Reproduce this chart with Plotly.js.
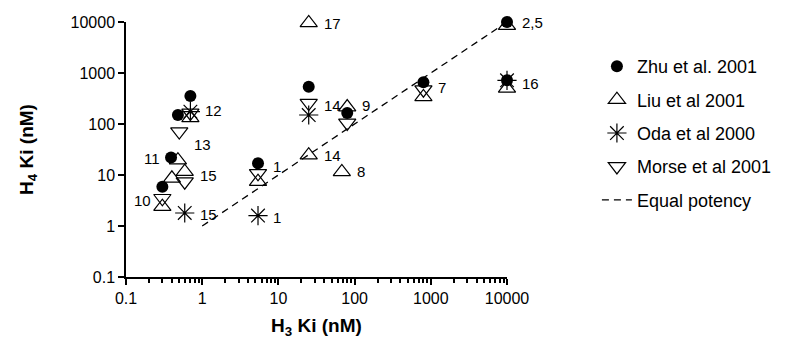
<!DOCTYPE html>
<html>
<head>
<meta charset="utf-8">
<script src="https://cdn.plot.ly/plotly-3.0.1.min.js"></script>
<style>
  html, body { margin: 0; padding: 0; background: #fff; }
  #chart { width: 794px; height: 339px; }
</style>
</head>
<body>
<div id="chart"></div>
<script>
// ---- Data ----
const zhuX   = [0.30, 0.39, 0.48, 0.70, 5.4, 25, 80, 800, 10000, 10000];
const zhuY   = [5.9, 22, 150, 355, 17, 540, 165, 660, 10000, 720];
const liuX   = [0.30, 0.40, 0.48, 0.59, 0.70, 5.4, 25, 25, 68, 80, 800, 10000, 10000];
const liuY   = [2.4, 8.6, 19.5, 11.6, 132, 7.4, 9600, 24.5, 11.5, 215, 340, 8500, 500];
const odaX   = [0.59, 0.70, 5.4, 25, 10000];
const odaY   = [1.8, 175, 1.6, 150, 720];
const morseX = [0.30, 0.50, 0.59, 0.70, 5.4, 25, 80, 800];
const morseY = [3.5, 71, 7.4, 165, 10.8, 257, 105, 470];
const equalX = [1, 10000];
const equalY = [1, 10000];

const seriesNames = ['Zhu et al. 2001', 'Liu et al 2001', 'Oda et al 2000', 'Morse et al 2001', 'Equal potency'];

const labelText = ['10', '11', '12', '13', '15', '15', '1', '1', '17', '14', '14', '9', '8', '7', '2,5', '16'];
const labelX    = [0.30, 0.39, 0.70, 0.50, 0.59, 0.59, 5.4, 5.4, 25, 25, 25, 80, 68, 800, 10000, 10000];
const labelY    = [3.2, 21.5, 186, 39, 10, 1.65, 14.4, 1.5, 9550, 235, 24.5, 230, 11.5, 530, 10000, 630];
const labelOnLeft = [true, true, false, false, false, false, false, false, false, false, false, false, false, false, false, false];

const tickVals = [0.1, 1, 10, 100, 1000, 10000];
const tickText = ['0.1', '1', '10', '100', '1000', '10000'];

// ---- Styling ----
const FONT = 'Liberation Sans, Arial, Helvetica, sans-serif';

const traces = [
  {
    x: zhuX, y: zhuY, name: seriesNames[0], mode: 'markers', type: 'scatter',
    legendgroup: 'g1', legendrank: 1, cliponaxis: false,
    marker: { symbol: 'circle', size: 12, color: '#000' }
  },
  {
    x: liuX, y: liuY, name: seriesNames[1], mode: 'markers', type: 'scatter',
    legendgroup: 'g2', legendrank: 2, cliponaxis: false,
    marker: { symbol: 'triangle-up-open', size: 15, color: '#000', line: { color: '#000', width: 1.2 } }
  },
  {
    x: odaX, y: odaY, name: seriesNames[2], mode: 'markers', type: 'scatter',
    legendgroup: 'g3', legendrank: 3, cliponaxis: false,
    marker: { symbol: 'asterisk-open', size: 16, color: '#000', line: { color: '#000', width: 1.2 } }
  },
  {
    x: morseX, y: morseY, name: seriesNames[3], mode: 'markers', type: 'scatter',
    legendgroup: 'g4', legendrank: 4, cliponaxis: false,
    marker: { symbol: 'triangle-down-open', size: 15, color: '#000', line: { color: '#000', width: 1.2 } }
  },
  {
    x: equalX, y: equalY, name: seriesNames[4], mode: 'lines', type: 'scatter',
    legendgroup: 'g5', legendrank: 5, cliponaxis: false,
    line: { color: '#000', width: 1.3, dash: '7px,5px' }
  }
];

const annotations = labelText.map((t, i) => ({
  x: Math.log10(labelX[i]), y: Math.log10(labelY[i]), xref: 'x', yref: 'y',
  text: t, showarrow: false,
  xanchor: labelOnLeft[i] ? 'right' : 'left', yanchor: 'middle',
  xshift: labelOnLeft[i] ? -9 : 13,
  font: { family: FONT, size: 15, color: '#000' }
}));

const layout = {
  width: 794, height: 339,
  margin: { l: 126, r: 287, t: 22, b: 62 },
  paper_bgcolor: '#fff', plot_bgcolor: '#fff',
  font: { family: FONT, color: '#000' },
  showlegend: true,
  legend: {
    x: 1.236, y: 0.898, xanchor: 'left', yanchor: 'top',
    font: { family: FONT, size: 18, color: '#000' },
    traceorder: 'grouped', tracegroupgap: 7,
    bgcolor: 'rgba(0,0,0,0)', borderwidth: 0
  },
  xaxis: {
    type: 'log', range: [-1, 4],
    tickmode: 'array', tickvals: tickVals, ticktext: tickText,
    ticks: 'outside', ticklen: 6, tickwidth: 2, tickcolor: 'black',
    minor: { ticks: 'outside', dtick: 'D1', ticklen: 4, tickwidth: 1.5, tickcolor: 'black' },
    showline: true, linecolor: 'black', linewidth: 1.5, mirror: false,
    showgrid: false, zeroline: false,
    tickfont: { family: FONT, size: 16, color: '#000' },
    title: { text: '<b>H<sub>3</sub> Ki (nM)</b>', font: { family: FONT, size: 19, color: '#000' }, standoff: 13 }
  },
  yaxis: {
    type: 'log', range: [-1, 4],
    tickmode: 'array', tickvals: tickVals, ticktext: tickText,
    ticks: 'outside', ticklen: 6, tickwidth: 2, tickcolor: 'black',
    showline: true, linecolor: 'black', linewidth: 1.5, mirror: false,
    showgrid: false, zeroline: false,
    tickfont: { family: FONT, size: 16, color: '#000' },
    title: { text: '<b>H<sub>4</sub> Ki (nM)</b>', font: { family: FONT, size: 19, color: '#000' }, standoff: 32 }
  },
  annotations: annotations
};

Plotly.newPlot('chart', traces, layout, { displayModeBar: false });
</script>
</body>
</html>
